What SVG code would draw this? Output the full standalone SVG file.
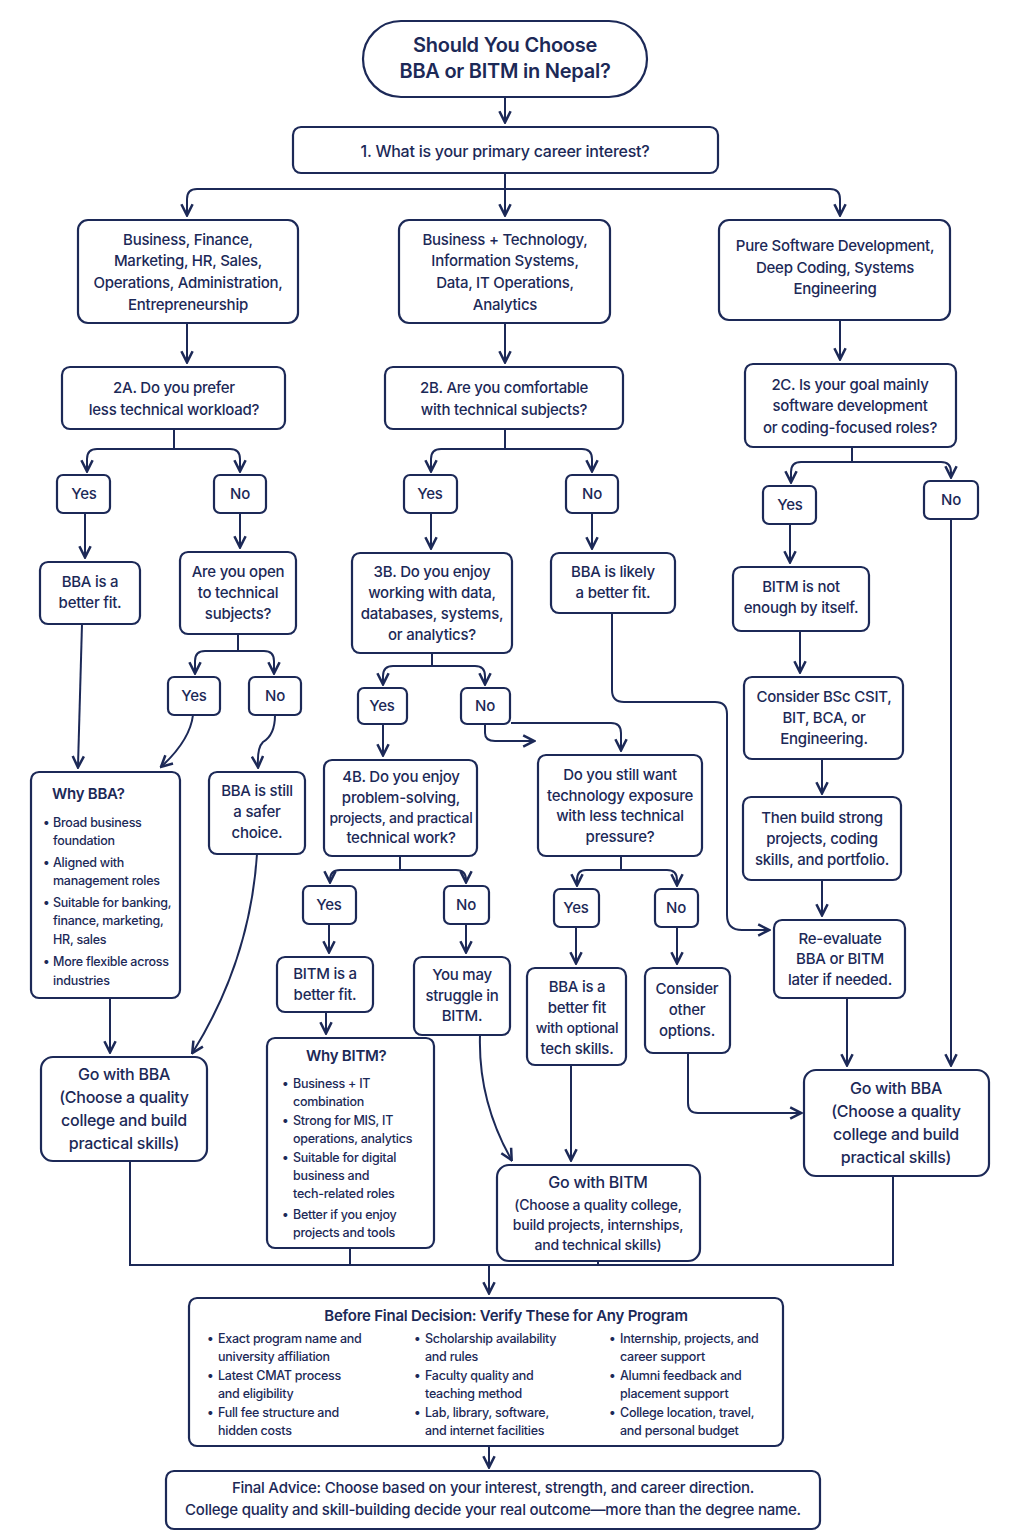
<svg xmlns="http://www.w3.org/2000/svg" width="1024" height="1536" viewBox="0 0 1024 1536">
<defs>
<marker id="ah" viewBox="0 0 10 10" refX="8" refY="5" markerWidth="7" markerHeight="7" orient="auto-start-reverse"><path d="M1,1 L9,5 L1,9" fill="none" stroke="#1c2957" stroke-width="1.8"/></marker>
<style>
rect{fill:#fff;stroke:#1c2957;stroke-width:2.2}
text{font-family:Inter,"Liberation Sans",sans-serif;fill:#1c2957;font-weight:500;letter-spacing:-0.25px}
.t{font-size:15px;text-anchor:middle}
.b{font-size:16px;text-anchor:middle}
.h{font-size:20px;text-anchor:middle;font-weight:600}
.s{font-size:12.5px}
.bt{font-size:15px;font-weight:600;text-anchor:middle}
#conn path{fill:none;stroke:#1c2957;stroke-width:2;marker-end:url(#ah)}
#conn path.n{marker-end:none}
</style>
</defs>
<rect x="0" y="0" width="1024" height="1536" style="fill:#fff;stroke:none"/>
<g id="conn">
<path d="M505,97 V121"/>
<path class="n" d="M505,173 V189"/>
<path d="M197,189 H830 Q840,189 840,199 V214"/>
<path d="M197,189 Q187,189 187,199 V214"/>
<path d="M505,189 V214"/>
<path d="M187,323 V361"/><path d="M505,323 V361"/><path d="M840,320 V358"/>
<path class="n" d="M174,429 V449"/><path d="M174,449 H97 Q87,449 87,459 V470"/><path d="M174,449 H230 Q240,449 240,459 V470"/>
<path class="n" d="M505,429 V449"/><path d="M505,449 H441 Q431,449 431,459 V470"/><path d="M505,449 H582 Q592,449 592,459 V470"/>
<path class="n" d="M852,447 V462"/><path d="M852,462 H801 Q791,462 791,472 V481"/><path d="M852,462 H941 Q951,462 951,472 V476"/>
<path d="M85,513 V556"/><path d="M240,513 V546"/><path d="M431,513 V547"/><path d="M592,513 V547"/><path d="M790,524 V561"/>
<path class="n" d="M238,634 V651"/><path d="M238,651 H205 Q195,651 195,661 V672"/><path d="M238,651 H264 Q274,651 274,661 V672"/>
<path class="n" d="M432,653 V666"/><path d="M432,666 H393 Q383,666 383,676 V683"/><path d="M432,666 H475 Q485,666 485,676 V683"/>
<path d="M800,631 V671"/><path d="M822,759 V792"/><path d="M822,880 V914"/>
<path d="M82,624 L78,766"/>
<path d="M193,715 Q190,740 162,766"/>
<path d="M275,715 Q275,735 263,742 Q257,748 258,766"/>
<path d="M383,724 V754"/>
<path d="M485,724 V733 Q485,741 495,741 H533"/>
<path d="M511,723 H611 Q621,723 621,733 V749"/>
<path d="M612,613 V690 Q612,702 624,702 H715 Q727,702 727,714 V915 Q727,930 742,930 H768"/>
<path class="n" d="M400,856 V870"/><path d="M400,870 H340 Q330,870 330,880 V881"/><path d="M400,870 H456 Q466,870 466,880 V881"/>
<path class="n" d="M621,856 V870"/><path d="M621,870 H586 Q577,870 577,880 V884"/><path d="M621,870 H667 Q677,870 677,880 V884"/>
<path d="M329,924 V951"/><path d="M466,924 V951"/><path d="M576,927 V962"/><path d="M677,927 V962"/>
<path d="M326,1012 V1032"/>
<path d="M110,998 V1051"/>
<path d="M257,854 Q250,960 193,1052"/>
<path d="M480,1035 Q478,1100 511,1159"/>
<path d="M571,1065 V1159"/>
<path d="M688,1053 V1103 Q688,1113 698,1113 H800"/>
<path d="M847,998 V1064"/>
<path d="M951,519 V1064"/>
<path class="n" d="M130,1161 V1265 H893 V1176"/>
<path class="n" d="M350,1248 V1265"/><path class="n" d="M598,1261 V1265"/>
<path d="M489,1265 V1292"/>
<path d="M489,1446 V1466"/>
</g>
<g id="title"><rect x="363" y="21" width="284" height="76" rx="38"/><text class="h" x="505" y="52">Should You Choose</text><text class="h" x="505" y="78">BBA or BITM in Nepal?</text></g>
<g id="q1"><rect x="293" y="127" width="425" height="46" rx="8"/><text class="b" x="505" y="157">1. What is your primary career interest?</text></g>
<g id="boxA"><rect x="78" y="220" width="220" height="103" rx="10"/><text class="t" x="188" y="245">Business, Finance,</text><text class="t" x="188" y="266">Marketing, HR, Sales,</text><text class="t" x="188" y="288">Operations, Administration,</text><text class="t" x="188" y="310">Entrepreneurship</text></g>
<g id="boxB"><rect x="399" y="220" width="211" height="103" rx="10"/><text class="t" x="505" y="245">Business + Technology,</text><text class="t" x="505" y="266">Information Systems,</text><text class="t" x="505" y="288">Data, IT Operations,</text><text class="t" x="505" y="310">Analytics</text></g>
<g id="boxC"><rect x="719" y="220" width="231" height="100" rx="10"/><text class="t" x="835" y="251">Pure Software Development,</text><text class="t" x="835" y="273">Deep Coding, Systems</text><text class="t" x="835" y="294">Engineering</text></g>
<g id="q2a"><rect x="62" y="367" width="223" height="62" rx="8"/><text class="t" x="174" y="393">2A. Do you prefer</text><text class="t" x="174" y="415">less technical workload?</text></g>
<g id="q2b"><rect x="385" y="367" width="238" height="62" rx="8"/><text class="t" x="504" y="393">2B. Are you comfortable</text><text class="t" x="504" y="415">with technical subjects?</text></g>
<g id="q2c"><rect x="745" y="364" width="211" height="83" rx="8"/><text class="t" x="850" y="390">2C. Is your goal mainly</text><text class="t" x="850" y="411">software development</text><text class="t" x="850" y="433">or coding-focused roles?</text></g>
<g id="y2a"><rect x="57" y="475" width="53" height="38" rx="6"/><text class="t" x="84" y="499">Yes</text></g>
<g id="n2a"><rect x="214" y="475" width="52" height="38" rx="6"/><text class="t" x="240" y="499">No</text></g>
<g id="y2b"><rect x="404" y="475" width="53" height="38" rx="6"/><text class="t" x="430" y="499">Yes</text></g>
<g id="n2b"><rect x="566" y="475" width="52" height="38" rx="6"/><text class="t" x="592" y="499">No</text></g>
<g id="y2c"><rect x="763" y="486" width="53" height="38" rx="6"/><text class="t" x="790" y="510">Yes</text></g>
<g id="n2c"><rect x="924" y="481" width="54" height="38" rx="6"/><text class="t" x="951" y="505">No</text></g>
<g id="bbaFit"><rect x="40" y="562" width="100" height="62" rx="8"/><text class="t" x="90" y="587">BBA is a</text><text class="t" x="90" y="608">better fit.</text></g>
<g id="openTech"><rect x="180" y="552" width="116" height="82" rx="8"/><text class="t" x="238" y="577">Are you open</text><text class="t" x="238" y="598">to technical</text><text class="t" x="238" y="619">subjects?</text></g>
<g id="q3b"><rect x="352" y="553" width="160" height="100" rx="8"/><text class="t" x="432" y="577">3B. Do you enjoy</text><text class="t" x="432" y="598">working with data,</text><text class="t" x="432" y="619">databases, systems,</text><text class="t" x="432" y="640">or analytics?</text></g>
<g id="bbaLikely"><rect x="551" y="553" width="124" height="60" rx="8"/><text class="t" x="613" y="577">BBA is likely</text><text class="t" x="613" y="598">a better fit.</text></g>
<g id="bitmNot"><rect x="733" y="567" width="136" height="64" rx="8"/><text class="t" x="801" y="592">BITM is not</text><text class="t" x="801" y="613">enough by itself.</text></g>
<g id="yOpen"><rect x="168" y="677" width="52" height="38" rx="6"/><text class="t" x="194" y="701">Yes</text></g>
<g id="nOpen"><rect x="249" y="677" width="52" height="38" rx="6"/><text class="t" x="275" y="701">No</text></g>
<g id="y3b"><rect x="358" y="688" width="49" height="36" rx="6"/><text class="t" x="382" y="711">Yes</text></g>
<g id="n3b"><rect x="461" y="688" width="49" height="36" rx="6"/><text class="t" x="485" y="711">No</text></g>
<g id="considerBsc"><rect x="744" y="677" width="159" height="82" rx="8"/><text class="t" x="824" y="702">Consider BSc CSIT,</text><text class="t" x="824" y="723">BIT, BCA, or</text><text class="t" x="824" y="744">Engineering.</text></g>
<g id="whyBBA"><rect x="31" y="772" width="149" height="226" rx="8"/>
<text x="52" y="799" style="font-size:15px;font-weight:600">Why BBA?</text>
<text class="s" x="43" y="827">•</text><text class="s" x="53" y="827">Broad business</text><text class="s" x="53" y="845">foundation</text>
<text class="s" x="43" y="867">•</text><text class="s" x="53" y="867">Aligned with</text><text class="s" x="53" y="885">management roles</text>
<text class="s" x="43" y="907">•</text><text class="s" x="53" y="907">Suitable for banking,</text><text class="s" x="53" y="925">finance, marketing,</text><text class="s" x="53" y="944">HR, sales</text>
<text class="s" x="43" y="966">•</text><text class="s" x="53" y="966">More flexible across</text><text class="s" x="53" y="985">industries</text></g>
<g id="safer"><rect x="209" y="772" width="96" height="82" rx="8"/><text class="t" x="257" y="796">BBA is still</text><text class="t" x="257" y="817">a safer</text><text class="t" x="257" y="838">choice.</text></g>
<g id="q4b"><rect x="324" y="760" width="153" height="96" rx="8"/><text class="t" x="401" y="782">4B. Do you enjoy</text><text class="t" x="401" y="803">problem-solving,</text><text class="t" x="401" y="823" style="font-size:14px">projects, and practical</text><text class="t" x="401" y="843">technical work?</text></g>
<g id="stillWant"><rect x="538" y="755" width="164" height="101" rx="8"/><text class="t" x="620" y="780">Do you still want</text><text class="t" x="620" y="801">technology exposure</text><text class="t" x="620" y="821">with less technical</text><text class="t" x="620" y="842">pressure?</text></g>
<g id="buildStrong"><rect x="743" y="797" width="158" height="83" rx="8"/><text class="t" x="822" y="823">Then build strong</text><text class="t" x="822" y="844">projects, coding</text><text class="t" x="822" y="865">skills, and portfolio.</text></g>
<g id="y4b"><rect x="303" y="886" width="53" height="38" rx="6"/><text class="t" x="329" y="910">Yes</text></g>
<g id="n4b"><rect x="444" y="886" width="45" height="38" rx="6"/><text class="t" x="466" y="910">No</text></g>
<g id="ySw"><rect x="554" y="889" width="45" height="38" rx="6"/><text class="t" x="576" y="913">Yes</text></g>
<g id="nSw"><rect x="655" y="889" width="43" height="38" rx="6"/><text class="t" x="676" y="913">No</text></g>
<g id="reeval"><rect x="774" y="920" width="131" height="78" rx="8"/><text class="t" x="840" y="944">Re-evaluate</text><text class="t" x="840" y="964">BBA or BITM</text><text class="t" x="840" y="985">later if needed.</text></g>
<g id="bitmFit"><rect x="277" y="957" width="96" height="55" rx="8"/><text class="t" x="325" y="979">BITM is a</text><text class="t" x="325" y="1000">better fit.</text></g>
<g id="struggle"><rect x="414" y="957" width="96" height="78" rx="8"/><text class="t" x="462" y="980">You may</text><text class="t" x="462" y="1001">struggle in</text><text class="t" x="462" y="1021">BITM.</text></g>
<g id="bbaOpt"><rect x="527" y="968" width="99" height="97" rx="8"/><text class="t" x="577" y="992">BBA is a</text><text class="t" x="577" y="1013">better fit</text><text class="t" x="577" y="1033" style="font-size:14px">with optional</text><text class="t" x="577" y="1054">tech skills.</text></g>
<g id="other"><rect x="645" y="968" width="85" height="85" rx="8"/><text class="t" x="687" y="994">Consider</text><text class="t" x="687" y="1015">other</text><text class="t" x="687" y="1036">options.</text></g>
<g id="whyBITM"><rect x="267" y="1038" width="167" height="210" rx="8"/>
<text x="306" y="1061" style="font-size:15px;font-weight:600">Why BITM?</text>
<text class="s" x="282" y="1088">•</text><text class="s" x="293" y="1088">Business + IT</text><text class="s" x="293" y="1106">combination</text>
<text class="s" x="282" y="1125">•</text><text class="s" x="293" y="1125">Strong for MIS, IT</text><text class="s" x="293" y="1143">operations, analytics</text>
<text class="s" x="282" y="1162">•</text><text class="s" x="293" y="1162">Suitable for digital</text><text class="s" x="293" y="1180">business and</text><text class="s" x="293" y="1198">tech-related roles</text>
<text class="s" x="282" y="1219">•</text><text class="s" x="293" y="1219">Better if you enjoy</text><text class="s" x="293" y="1237">projects and tools</text></g>
<g id="goBBA1"><rect x="41" y="1057" width="166" height="104" rx="12"/><text class="b" x="124" y="1080">Go with BBA</text><text class="b" x="124" y="1103">(Choose a quality</text><text class="b" x="124" y="1126">college and build</text><text class="b" x="124" y="1149">practical skills)</text></g>
<g id="goBITM"><rect x="497" y="1165" width="203" height="96" rx="12"/><text class="b" x="598" y="1188">Go with BITM</text><text class="t" x="598" y="1210" style="font-size:14px">(Choose a quality college,</text><text class="t" x="598" y="1230" style="font-size:14px">build projects, internships,</text><text class="t" x="598" y="1250" style="font-size:14px">and technical skills)</text></g>
<g id="goBBA2"><rect x="804" y="1070" width="185" height="106" rx="12"/><text class="b" x="896" y="1094">Go with BBA</text><text class="b" x="896" y="1117">(Choose a quality</text><text class="b" x="896" y="1140">college and build</text><text class="b" x="896" y="1163">practical skills)</text></g>
<g id="verify"><rect x="189" y="1298" width="594" height="148" rx="8"/>
<text class="bt" x="506" y="1321">Before Final Decision: Verify These for Any Program</text>
<text class="s" x="207" y="1343">•</text><text class="s" x="218" y="1343">Exact program name and</text><text class="s" x="218" y="1361">university affiliation</text>
<text class="s" x="207" y="1380">•</text><text class="s" x="218" y="1380">Latest CMAT process</text><text class="s" x="218" y="1398">and eligibility</text>
<text class="s" x="207" y="1417">•</text><text class="s" x="218" y="1417">Full fee structure and</text><text class="s" x="218" y="1435">hidden costs</text>
<text class="s" x="414" y="1343">•</text><text class="s" x="425" y="1343">Scholarship availability</text><text class="s" x="425" y="1361">and rules</text>
<text class="s" x="414" y="1380">•</text><text class="s" x="425" y="1380">Faculty quality and</text><text class="s" x="425" y="1398">teaching method</text>
<text class="s" x="414" y="1417">•</text><text class="s" x="425" y="1417">Lab, library, software,</text><text class="s" x="425" y="1435">and internet facilities</text>
<text class="s" x="609" y="1343">•</text><text class="s" x="620" y="1343">Internship, projects, and</text><text class="s" x="620" y="1361">career support</text>
<text class="s" x="609" y="1380">•</text><text class="s" x="620" y="1380">Alumni feedback and</text><text class="s" x="620" y="1398">placement support</text>
<text class="s" x="609" y="1417">•</text><text class="s" x="620" y="1417">College location, travel,</text><text class="s" x="620" y="1435">and personal budget</text></g>
<g id="final"><rect x="166" y="1471" width="654" height="58" rx="8"/><text class="t" x="493" y="1493">Final Advice: Choose based on your interest, strength, and career direction.</text><text class="t" x="493" y="1515">College quality and skill-building decide your real outcome—more than the degree name.</text></g>
</svg>
